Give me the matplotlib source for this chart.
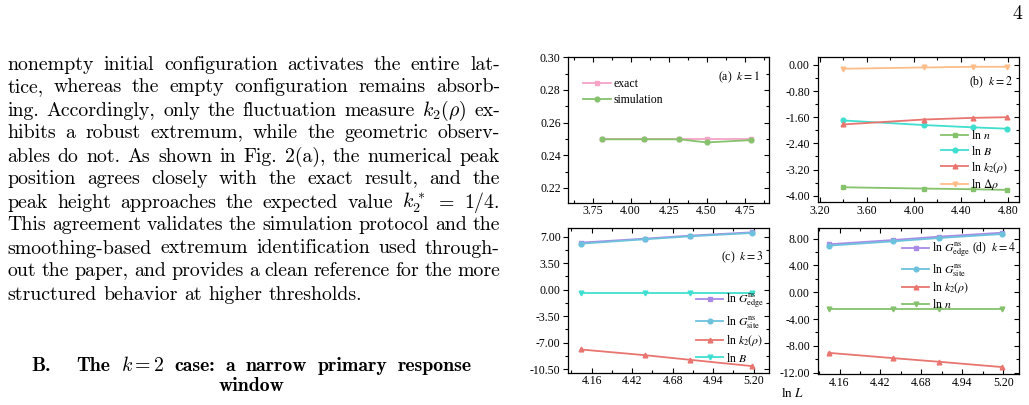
import matplotlib
matplotlib.use('Agg')
import matplotlib.pyplot as plt
from matplotlib.ticker import MultipleLocator, FormatStrFormatter, AutoMinorLocator

plt.rcParams['font.family'] = ['Liberation Serif', 'DejaVu Serif']
plt.rcParams['mathtext.fontset'] = 'stix'
plt.rcParams['axes.unicode_minus'] = False

# ---------------- data ----------------
lnL_a = [3.81, 4.09, 4.32, 4.50, 4.79]
exact_a = [0.250, 0.250, 0.250, 0.250, 0.250]
sim_a = [0.2498, 0.2498, 0.2498, 0.2479, 0.2493]

lnL_b = [3.40, 4.09, 4.50, 4.79]
lnn_b = [-3.74, -3.78, -3.80, -3.82]
lnB_b = [-1.70, -1.84, -1.91, -1.95]
lnk2_b = [-1.82, -1.67, -1.62, -1.60]
lndrho_b = [-0.12, -0.08, -0.06, -0.06]

lnL_c = [4.09, 4.50, 4.79, 5.19]
lnGedge_c = [6.21, 6.73, 7.13, 7.57]
lnGsite_c = [6.07, 6.65, 7.04, 7.48]
lnk2_c = [-7.90, -8.65, -9.26, -10.10]
lnB_c = [-0.45, -0.45, -0.45, -0.45]

lnL_d = [4.09, 4.50, 4.79, 5.19]
lnGedge_d = [7.16, 7.80, 8.30, 8.89]
lnGsite_d = [6.96, 7.60, 8.10, 8.69]
lnk2_d = [-9.04, -9.83, -10.37, -11.16]
lnn_d = [-2.52, -2.52, -2.52, -2.52]

body_lines = [
    "nonempty initial configuration activates the entire lat-",
    "tice, whereas the empty configuration remains absorb-",
    r"ing. Accordingly, only the fluctuation measure $k_2(\rho)$ ex-",
    "hibits a robust extremum, while the geometric observ-",
    "ables do not. As shown in Fig. 2(a), the numerical peak",
    "position agrees closely with the exact result, and the",
    r"peak height approaches the expected value $k_2^*$ $=$ $1/4$.",
    "This agreement validates the simulation protocol and the",
    "smoothing-based extremum identification used through-",
    "out the paper, and provides a clean reference for the more",
    "structured behavior at higher thresholds.",
]
heading_num = "B."
heading_line1 = r"The $k=2$ case: a narrow primary response"
heading_line2 = "window"

# ---------------- figure ----------------
W, H = 1029, 405
fig = plt.figure(figsize=(W / 100, H / 100), dpi=100)
fig.patch.set_facecolor('white')


def fx(x):
    return x / W


def fy(y):
    return 1 - y / H


def add_ax(l, r, t, b):
    return fig.add_axes([fx(l), fy(b), fx(r) - fx(l), (b - t) / H])


C_PINK = '#f5a3c7'
C_GREEN = '#86c26c'
C_TURQ = '#3fdfcf'
C_RED = '#e8756f'
C_ORANGE = '#ffbd8a'
C_PURPLE = '#a98ae6'
C_BLUE = '#6cc2dc'

TS = 8.5


def style(ax, xmaj, ymaj, xlim, ylim):
    ax.set_xlim(*xlim)
    ax.set_ylim(*ylim)
    ax.xaxis.set_major_locator(MultipleLocator(xmaj))
    ax.yaxis.set_major_locator(MultipleLocator(ymaj))
    ax.xaxis.set_minor_locator(AutoMinorLocator(2))
    ax.yaxis.set_minor_locator(AutoMinorLocator(2))
    ax.xaxis.set_major_formatter(FormatStrFormatter('%.2f'))
    ax.yaxis.set_major_formatter(FormatStrFormatter('%.2f'))
    ax.tick_params(axis='both', which='major', labelsize=TS, length=3.5, width=0.8, pad=2)
    ax.tick_params(axis='both', which='minor', length=2, width=0.8)
    ax.tick_params(axis='x', which='both', direction='in', top=True, bottom=True)
    ax.tick_params(axis='y', which='both', direction='out', left=True, right=False)
    sec = ax.secondary_yaxis('right')
    sec.yaxis.set_major_locator(MultipleLocator(ymaj))
    sec.yaxis.set_minor_locator(AutoMinorLocator(2))
    sec.tick_params(axis='y', which='major', direction='in', length=3.5, width=0.8, labelright=False)
    sec.tick_params(axis='y', which='minor', direction='in', length=2, width=0.8)
    sec.spines['right'].set_visible(False)
    for s in ax.spines.values():
        s.set_linewidth(0.9)


lw, ms = 1.3, 3.4

# panel a
ax_a = add_ax(568.3, 769.0, 57.3, 202.7)
ax_a.plot(lnL_a, exact_a, color=C_PINK, marker='s', lw=lw, ms=ms, label='exact')
ax_a.plot(lnL_a, sim_a, color=C_GREEN, marker='o', lw=lw, ms=ms, label='simulation')
style(ax_a, 0.25, 0.02, (3.59, 4.91), (0.211, 0.30))
ax_a.legend(loc='upper left', bbox_to_anchor=(0.075, 0.86), frameon=False, fontsize=TS,
            handlelength=2.3, handletextpad=0.25, borderpad=0, borderaxespad=0, labelspacing=0.4)
ax_a.text(0.955, 0.865, r'(a)  $k = 1$', transform=ax_a.transAxes, ha='right', va='center', fontsize=TS)

# panel b
ax_b = add_ax(817.5, 1018.5, 57.3, 202.0)
ax_b.plot(lnL_b, lnn_b, color=C_GREEN, marker='s', lw=lw, ms=ms, label=r'ln $n$')
ax_b.plot(lnL_b, lnB_b, color=C_TURQ, marker='o', lw=lw, ms=ms, label=r'ln $B$')
ax_b.plot(lnL_b, lnk2_b, color=C_RED, marker='^', lw=lw, ms=ms, label=r'ln $k_2(\rho)$')
ax_b.plot(lnL_b, lndrho_b, color=C_ORANGE, marker='v', lw=lw, ms=ms, label=r'ln $\Delta\rho$')
style(ax_b, 0.4, 0.8, (3.18, 4.89), (-4.19, 0.23))
ax_b.legend(loc='upper left', bbox_to_anchor=(0.615, 0.505), frameon=False, fontsize=TS,
            handlelength=2.3, handletextpad=0.25, borderpad=0, borderaxespad=0, labelspacing=0.22)
ax_b.text(0.97, 0.83, r'(b)  $k = 2$', transform=ax_b.transAxes, ha='right', va='center', fontsize=TS)

# panel c
ax_c = add_ax(568.3, 769.3, 228.3, 372.5)
ax_c.plot(lnL_c, lnGedge_c, color=C_PURPLE, marker='s', lw=lw, ms=ms, label=r'ln $G^{\rm ns}_{\rm edge}$')
ax_c.plot(lnL_c, lnGsite_c, color=C_BLUE, marker='o', lw=lw, ms=ms, label=r'ln $G^{\rm ns}_{\rm site}$')
ax_c.plot(lnL_c, lnk2_c, color=C_RED, marker='^', lw=lw, ms=ms, label=r'ln $k_2(\rho)$')
ax_c.plot(lnL_c, lnB_c, color=C_TURQ, marker='v', lw=lw, ms=ms, label=r'ln $B$')
style(ax_c, 0.26, 3.5, (4.01, 5.30), (-10.94, 8.1))
ax_c.legend(loc='upper left', bbox_to_anchor=(0.635, 0.56), frameon=False, fontsize=TS,
            handlelength=2.3, handletextpad=0.25, borderpad=0, borderaxespad=0, labelspacing=0.3)
ax_c.text(0.97, 0.80, r'(c)  $k = 3$', transform=ax_c.transAxes, ha='right', va='center', fontsize=TS)

# panel d
ax_d = add_ax(817.5, 1019.0, 228.3, 374.0)
ax_d.plot(lnL_d, lnGedge_d, color=C_PURPLE, marker='s', lw=lw, ms=ms, label=r'ln $G^{\rm ns}_{\rm edge}$')
ax_d.plot(lnL_d, lnGsite_d, color=C_BLUE, marker='o', lw=lw, ms=ms, label=r'ln $G^{\rm ns}_{\rm site}$')
ax_d.plot(lnL_d, lnk2_d, color=C_RED, marker='^', lw=lw, ms=ms, label=r'ln $k_2(\rho)$')
ax_d.plot(lnL_d, lnn_d, color=C_GREEN, marker='v', lw=lw, ms=ms, label=r'ln $n$')
style(ax_d, 0.26, 4.0, (4.02, 5.30), (-12.2, 9.55))
ax_d.legend(loc='upper left', bbox_to_anchor=(0.42, 0.915), frameon=False, fontsize=TS,
            handlelength=2.3, handletextpad=0.25, borderpad=0, borderaxespad=0, labelspacing=0.22)
ax_d.text(0.985, 0.86, r'(d)  $k = 4$', transform=ax_d.transAxes, ha='right', va='center', fontsize=TS)

fig.text(fx(792.5), fy(393.5), r'ln $L$', ha='center', va='center', fontsize=9.5)

# ---------------- body text ----------------
BF = 14.3
renderer = fig.canvas.get_renderer()
X0, X1 = 7.3, 500.0
base0, dy = 69.5, 23.0


def draw_words(words, y, x0, x1, justify, family='cmr10', size=BF):
    ts = [fig.text(0, fy(y), w, fontsize=size, family=family, math_fontfamily='cm',
                   ha='left', va='baseline') for w in words]
    widths = [t.get_window_extent(renderer).width for t in ts]
    if justify and len(words) > 1:
        gap = (x1 - x0 - sum(widths)) / (len(words) - 1)
    else:
        gap = size * 100 / 72 * 0.333
    x = x0
    for t, w in zip(ts, widths):
        t.set_x(fx(x))
        x += w + gap
    return x - gap


for i, line in enumerate(body_lines):
    words = line.split(' ')
    draw_words(words, base0 + dy * i, X0, X1, justify=(i < len(body_lines) - 1))

fig.text(fx(31.5), fy(371.0), heading_num, fontsize=BF, family='cmb10', ha='left', va='baseline')
draw_words(heading_line1.split(' '), 371.0, 76.5, 471.5, justify=True, family='cmb10')
fig.text(fx(252.0), fy(391.0), heading_line2, fontsize=BF, family='cmb10', ha='center', va='baseline')

fig.text(fx(1022), fy(19), '4', fontsize=BF, family='cmr10', ha='right', va='baseline')

fig.savefig('out.png', dpi=100, facecolor='white')
